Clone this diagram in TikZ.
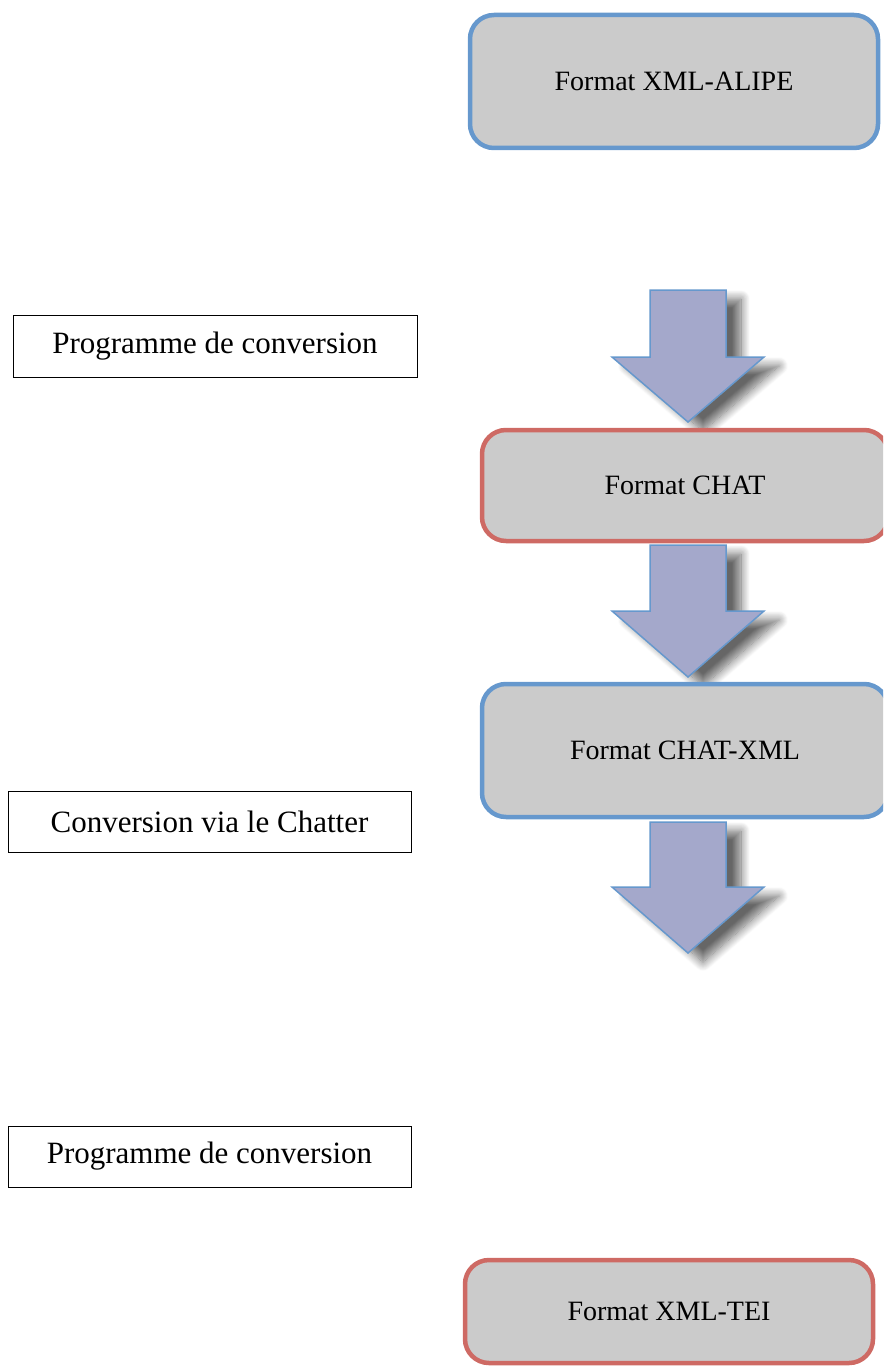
\documentclass[tikz,border=0pt]{standalone}
\usepackage{fontspec}
\setmainfont{Liberation Serif}
\usetikzlibrary{shadows.blur}
\definecolor{boxblue}{RGB}{102,152,205}
\definecolor{boxred}{RGB}{206,106,100}
\definecolor{boxgray}{RGB}{203,203,203}
\definecolor{arrowfill}{RGB}{164,168,203}
\newcommand\blockarrow[4]{%
  \path[arrowstyle] ({#1-38},#2) -- ({#1+38},#2) -- ({#1+38},#3) -- ({#1+76},#3)
    -- (#1,#4) -- ({#1-76},#3) -- ({#1-38},#3) -- cycle;}
\begin{document}
\begin{tikzpicture}[x=1pt,y=-1pt,
  fmtbox/.style={draw, line width=4.5pt, fill=boxgray, rounded corners=24pt,
    inner sep=0pt, font=\fontsize{28}{34}\selectfont},
  bluebox/.style={fmtbox, draw=boxblue},
  redbox/.style={fmtbox, draw=boxred},
  stepnote/.style={draw=black, line width=1pt, fill=white, inner sep=0pt,
    minimum width=403pt, minimum height=61pt, font=\fontsize{31}{37}\selectfont},
  arrowstyle/.style={fill=arrowfill, draw=boxblue, line width=1.5pt, line join=miter,
    blur shadow={shadow xshift=15pt, shadow yshift=-9pt, shadow blur radius=9pt,
      shadow blur steps=12, shadow opacity=60}}]
\useasboundingbox (0,0) rectangle (883,1367);
\clip (0,0) rectangle (883,1367);

% block arrows (drawn first, boxes sit over their shadows)
\blockarrow{688}{290}{357}{422}
\blockarrow{688}{545}{611}{677}
\blockarrow{688}{822}{887}{953}

% format boxes
\node[bluebox, minimum width=408pt, minimum height=133pt] (alipe) at (674,81.5) {Format XML-ALIPE};
\node[redbox,  minimum width=406pt, minimum height=111pt] (chat)  at (685,485.5) {Format CHAT};
\node[bluebox, minimum width=406pt, minimum height=133pt] (chatxml) at (685,750.5) {Format CHAT-XML};
\node[redbox,  minimum width=408pt, minimum height=103pt] (tei)   at (669,1311.5) {Format XML-TEI};

% side notes
\node[stepnote, minimum width=404pt, minimum height=62pt] (prog1) at (215,346) {Programme de conversion};
\node[stepnote] (chatter) at (209.5,821.5) {Conversion via le Chatter};
\node[stepnote] (prog2) at (209.5,1156.5) {Programme de conversion};
\end{tikzpicture}
\end{document}
